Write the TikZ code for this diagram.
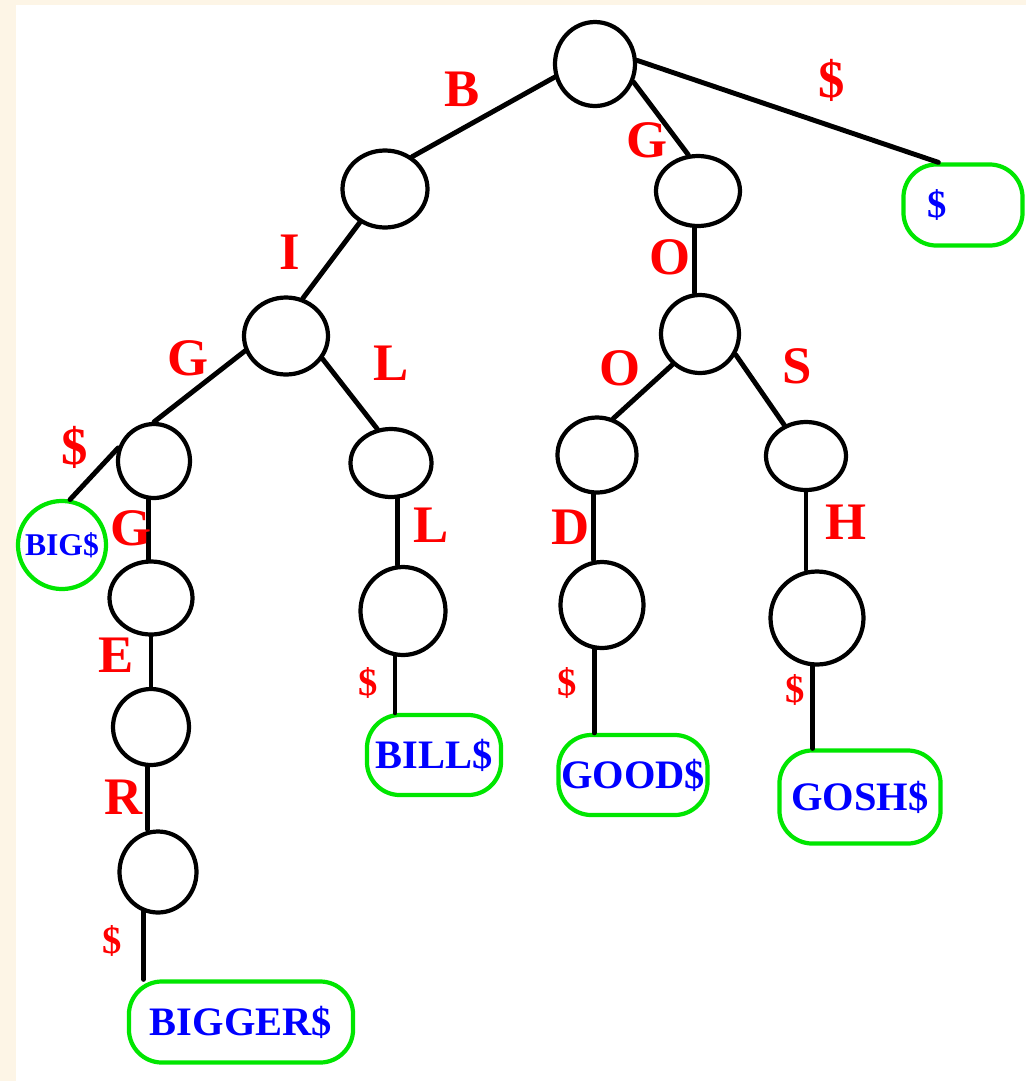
\documentclass[tikz,border=0pt]{standalone}
\usepackage{fontspec}
\setmainfont{Liberation Serif}
\usetikzlibrary{shapes.geometric}
\definecolor{paper}{RGB}{253,245,230}
\definecolor{leafgreen}{RGB}{0,230,0}
\tikzset{
	st/.style={ellipse, draw, line width=1.2pt, inner sep=0pt},
	leaf/.style={draw=leafgreen, line width=1.2pt, rounded corners=0.33cm, inner sep=0pt, text=blue, font=\fontsize{11.5}{12}\selectfont\bfseries},
	edge/.style={line width=1.4pt},
	lbl/.style={text=red, font=\fontsize{15}{16}\selectfont\bfseries},
	sml/.style={text=red, font=\fontsize{11}{12}\selectfont\bfseries},
}
\begin{document}
\begin{tikzpicture}[x=0.01cm, y=-0.01cm, line join=round, line cap=round]
	\useasboundingbox (0,0) rectangle (1026,1081);
	\fill[paper] (0,0) rectangle (1026,1081);
	\fill[white] (16,5) rectangle (1026,1081);
	% trie states
	\foreach \n/\x/\y/\w/\h in {r/595/64/80/84, b/385/189/85/77, g/698/191/84/70, i/286/336/84/77, o/700/334/78/78, gg/154/461/72/74, l/391/463/81/68, oo/597/455/79/75, s/806/456/80/68, ggg/151/598/83/73, e/151/727/76/76, rr/158/872/77/81, ll/403/611/85/88, d/602/605/83/86, h/817/618/93/93}
		\node[st, minimum width=\w*0.01cm, minimum height=\h*0.01cm] (\n) at (\x,\y) {};
	% leaves
	\node[leaf, minimum width=1.19cm, minimum height=0.81cm, text width=0.7cm, align=left, font=\fontsize{11}{12}\selectfont\bfseries] (dl) at (963,205) {\$};
	\node[leaf, circle, minimum size=0.88cm, font=\fontsize{9}{10}\selectfont\bfseries] (big) at (62,545) {BIG\$};
	\node[leaf, minimum width=1.34cm, minimum height=0.80cm] (bill) at (434,755) {BILL\$};
	\node[leaf, minimum width=1.49cm, minimum height=0.80cm] (good) at (633,775) {GOOD\$};
	\node[leaf, minimum width=1.61cm, minimum height=0.93cm] (gosh) at (860,797) {GOSH\$};
	\node[leaf, minimum width=2.24cm, minimum height=0.81cm] (bigger) at (241,1022) {BIGGER\$};
	% slanted edges
	\foreach \a/\b in {r.198/b.50, r.335/g.105, r.5/dl.120, b.233/i.66, i.200/gg.north, i.328/l.112, gg.160/big.80, o.228/oo.66, o.330/s.125}
		\draw[edge] (\a) -- (\b);
	% straight down
	\foreach \a/\b in {g.265/o, gg.262/ggg, ggg.south/e, e.265/rr, rr.250/bigger, l.280/ll, ll.260/bill, oo.265/d, d.260/good, s.south/h, h.265/gosh}
		\draw[edge] (\a) -- (\a |- \b.north);
	% edge letters
	\foreach \t/\x/\y [count=\k] in {B/462/89, G/647/140, I/290/252, O/670/257, G/188/358, L/391/363, O/620/368, S/797/366, G/131/528, L/431/525, D/571/527, H/846/522, E/116/655, R/124/797, \$/832/80, \$/75/447}
		\node[lbl] (lab\k) at (\x,\y) {\t};
	\foreach \x/\y [count=\k] in {368/683, 567/683, 795/690, 112/941}
		\node[sml] (end\k) at (\x,\y) {\$};
\end{tikzpicture}
\end{document}
